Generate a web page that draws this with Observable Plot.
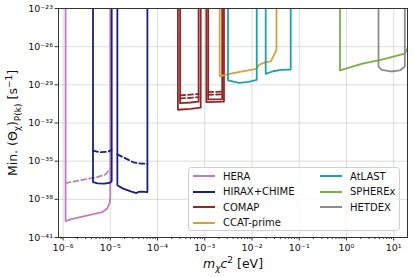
<!DOCTYPE html>
<html>
<head>
<meta charset="utf-8">
<script src="https://cdn.jsdelivr.net/npm/d3@7"></script>
<script src="https://cdn.jsdelivr.net/npm/@observablehq/plot@0.6"></script>
<style>
  body { margin: 0; background: #fff; font-family: "DejaVu Sans", sans-serif; }
  #wrap { position: relative; width: 415px; height: 277px; }
  #legend { position: absolute; left: 188px; top: 167px; width: 212px; height: 64px;
    background: rgba(255,255,255,0.85); border: 1px solid #d0d0d0; border-radius: 3px;
    font-size: 10px; color: #111; box-sizing: border-box; }
  .item { position: absolute; display: flex; align-items: center; height: 14px; }
  .sw { width: 22px; height: 0; border-top: 2px solid; margin-right: 8px; }
</style>
</head>
<body>
<div id="wrap"></div>
<script>
// ---- data: [m_chi c^2 (eV), min Theta (s^-1)] ----
const TOP = 1e-20;
const heraSolid = [[1.13e-6, TOP],[1.13e-6, 1.9e-40],[1.44e-6, 2.7e-40],[3.0e-6, 5e-40],[6.8e-6, 1e-39],[8.6e-6, 1.9e-39],[9.8e-6, 6e-39],[1.0e-5, 2e-38],[1.0e-5, TOP]];
const heraDashed = [[1.13e-6, 1.9e-37],[5.3e-6, 5.6e-37],[7.9e-6, 9e-37],[1.0e-5, 2.6e-36]];
const hiraxSolidA = [[4.3e-6, TOP],[4.3e-6, 2.26e-37],[5.4e-6, 1.8e-37],[7.5e-6, 1.7e-37],[1.0e-5, 2.1e-37],[1.07e-5, 2.6e-37],[1.07e-5, TOP]];
const hiraxDashedA = [[4.3e-6, 6.6e-35],[6.0e-6, 5.1e-35],[9.0e-6, 5.6e-35],[1.07e-5, 7.8e-35]];
const hiraxSolidB = [[1.41e-5, TOP],[1.41e-5, 1.26e-37],[1.82e-5, 7.3e-38],[2.7e-5, 4.2e-38],[3.6e-5, 3.1e-38],[4.0e-5, 3.9e-38],[4.6e-5, 4.1e-38],[6.1e-5, 3.7e-38],[6.1e-5, TOP]];
const hiraxDashedB = [[1.41e-5, 3.4e-35],[2.1e-5, 1.66e-35],[3.1e-5, 8e-36],[4.4e-5, 6.3e-36],[6.1e-5, 6.3e-36]];
const comapSolidA1 = [[2.70e-4, TOP],[2.70e-4, 1.1e-31],[5.0e-4, 1.3e-31],[8.2e-4, 1.6e-31],[8.2e-4, TOP]];
const comapSolidA2 = [[3.0e-4, TOP],[3.0e-4, 3.6e-31],[5.0e-4, 4.1e-31],[7.4e-4, 4.7e-31],[7.4e-4, TOP]];
const comapDashedA1 = [[3.0e-4, 8.5e-31],[5.0e-4, 9.5e-31],[7.4e-4, 1.1e-30]];
const comapDashedA2 = [[3.0e-4, 1.5e-30],[5.0e-4, 1.7e-30],[7.4e-4, 1.9e-30]];
const comapSolidB1 = [[1.08e-3, TOP],[1.08e-3, 4.4e-31],[1.7e-3, 4.6e-31],[2.55e-3, 4.9e-31],[2.55e-3, TOP]];
const comapSolidB2 = [[1.18e-3, TOP],[1.18e-3, 7.1e-31],[2.34e-3, 7.6e-31],[2.34e-3, TOP]];
const comapDashedB1 = [[1.18e-3, 1.66e-30],[2.34e-3, 1.8e-30]];
const comapDashedB2 = [[1.18e-3, 2.7e-30],[2.34e-3, 2.9e-30]];
const ccatSolid = [[2.07e-3, TOP],[2.07e-3, 4.8e-29],[4.5e-3, 9.3e-29],[1.24e-2, 1.8e-28],[1.41e-2, 3.8e-28],[1.95e-2, 6.0e-28],[2.5e-2, 6.9e-28],[3.3e-2, 5.7e-27],[3.3e-2, TOP]];
const atlastSolidA = [[3.1e-3, TOP],[3.1e-3, 2.2e-29],[5.3e-3, 1.45e-29],[8.5e-3, 1.7e-29],[1.26e-2, 2.5e-29],[1.26e-2, TOP]];
const atlastSolidB = [[1.95e-2, TOP],[1.95e-2, 7.4e-29],[2.8e-2, 1.17e-28],[4.1e-2, 1.5e-28],[6.6e-2, 1.6e-28],[6.6e-2, TOP]];
const spherexSolid = [[0.73, TOP],[0.73, 1.35e-28],[2.18, 4.6e-28],[5.3, 9.3e-28],[17.2, 2.8e-27],[19.6, 7.6e-27],[25, 1.5e-26]];
const hetdexSolid = [[4.77, TOP],[4.77, 2.75e-28],[5.6, 1.48e-28],[8.7, 1.12e-28],[13.5, 1.35e-28],[17.2, 2.75e-28],[17.2, TOP]];

const names = ["HERA", "HIRAX+CHIME", "COMAP", "CCAT-prime", "AtLAST", "SPHEREx", "HETDEX"];
const colors = ["#c27bbf", "#1b1d85", "#952525", "#d4a13c", "#1ba3a6", "#79b040", "#8c8c8c"];
const xTicks = [1e-6, 1e-5, 1e-4, 1e-3, 1e-2, 1e-1, 1e0, 1e1];
const yTicks = [1e-41, 1e-38, 1e-35, 1e-32, 1e-29, 1e-26, 1e-23];

const curves = [
  ["HERA", heraSolid, false], ["HERA", heraDashed, true],
  ["HIRAX+CHIME", hiraxSolidA, false], ["HIRAX+CHIME", hiraxDashedA, true],
  ["HIRAX+CHIME", hiraxSolidB, false], ["HIRAX+CHIME", hiraxDashedB, true],
  ["COMAP", comapSolidA1, false], ["COMAP", comapSolidA2, false],
  ["COMAP", comapDashedA1, true], ["COMAP", comapDashedA2, true],
  ["COMAP", comapSolidB1, false], ["COMAP", comapSolidB2, false],
  ["COMAP", comapDashedB1, true], ["COMAP", comapDashedB2, true],
  ["CCAT-prime", ccatSolid, false],
  ["AtLAST", atlastSolidA, false], ["AtLAST", atlastSolidB, false],
  ["SPHEREx", spherexSolid, false],
  ["HETDEX", hetdexSolid, false]
];

const supMap = {"-":"\u207B","0":"\u2070","1":"\u00B9","2":"\u00B2","3":"\u00B3","4":"\u2074","5":"\u2075","6":"\u2076","7":"\u2077","8":"\u2078","9":"\u2079"};
const fmt = d => "10" + String(Math.round(Math.log10(d))).split("").map(c => supMap[c]).join("");
const minor = [];
for (let e = -7; e <= 1; e++) for (let k = 2; k <= 9; k++) { const v = k * Math.pow(10, e); if (v > 8e-7 && v < 19.6) minor.push(v); }

const marks = [
  Plot.gridX(xTicks, {stroke: "#b0b0b0", strokeOpacity: 0.55, strokeWidth: 0.8}),
  Plot.gridY(yTicks, {stroke: "#b0b0b0", strokeOpacity: 0.55, strokeWidth: 0.8}),
  Plot.axisX(minor, {tickSize: 2, tickFormat: () => "", stroke: "#333"}),
  Plot.axisX(xTicks, {tickSize: 3.5, tickPadding: 3, tickFormat: fmt, fontSize: 9.5, stroke: "#333", label: null}),
  Plot.axisY(yTicks, {tickSize: 3.5, tickPadding: 2, tickFormat: fmt, fontSize: 9.5, stroke: "#333", label: null})
];
curves.forEach(([name, pts, dashed]) => {
  const c = colors[names.indexOf(name)];
  marks.push(Plot.line(pts, {x: d => d[0], y: d => d[1], stroke: c, strokeWidth: 1.8,
    strokeDasharray: dashed ? "5,3" : null, clip: true}));
});
marks.push(Plot.frame({stroke: "#333", strokeWidth: 1}));

const chart = Plot.plot({
  width: 415, height: 277,
  marginLeft: 58, marginRight: 8, marginTop: 8, marginBottom: 40,
  style: {fontFamily: "DejaVu Sans, sans-serif", color: "#111", background: "#fff"},
  x: {type: "log", domain: [8.0e-7, 19.6]},
  y: {type: "log", domain: [1e-41, 1e-23]},
  marks
});
document.getElementById("wrap").appendChild(chart);

const svg = d3.select(chart);
const yl = svg.append("text").attr("transform", "translate(17,123) rotate(-90)")
  .attr("text-anchor", "middle").attr("font-size", 12.5).attr("fill", "#111");
yl.append("tspan").text("Min. (\u0398");
yl.append("tspan").attr("font-size", 9).attr("dy", 3).text("\u03C7");
yl.append("tspan").attr("dy", -3).text(")");
yl.append("tspan").attr("font-size", 9).attr("dy", 3.5).text("P(k)");
yl.append("tspan").attr("dy", -3.5).text(" [s");
yl.append("tspan").attr("font-size", 9).attr("dy", -5).text("\u22121");
yl.append("tspan").attr("dy", 5).text("]");

const xl = svg.append("text").attr("x", 233).attr("y", 268)
  .attr("text-anchor", "middle").attr("font-size", 12.5).attr("fill", "#111");
xl.append("tspan").attr("font-style", "italic").text("m");
xl.append("tspan").attr("font-size", 9).attr("font-style", "italic").attr("dy", 3).text("\u03C7");
xl.append("tspan").attr("font-style", "italic").attr("dy", -3).text("c");
xl.append("tspan").attr("font-size", 9).attr("dy", -5).text("2");
xl.append("tspan").attr("dy", 5).text(" [eV]");

// legend
const lg = document.createElement("div");
lg.id = "legend";
names.forEach((n, i) => {
  const col = i < 4 ? 0 : 1, row = i < 4 ? i : i - 4;
  const it = document.createElement("div");
  it.className = "item";
  it.style.left = (col === 0 ? 4 : 131) + "px";
  it.style.top = (1 + row * 15.5) + "px";
  const sw = document.createElement("span");
  sw.className = "sw"; sw.style.borderColor = colors[i];
  const tx = document.createElement("span"); tx.textContent = n;
  it.appendChild(sw); it.appendChild(tx);
  lg.appendChild(it);
});
document.getElementById("wrap").appendChild(lg);
</script>
</body>
</html>
